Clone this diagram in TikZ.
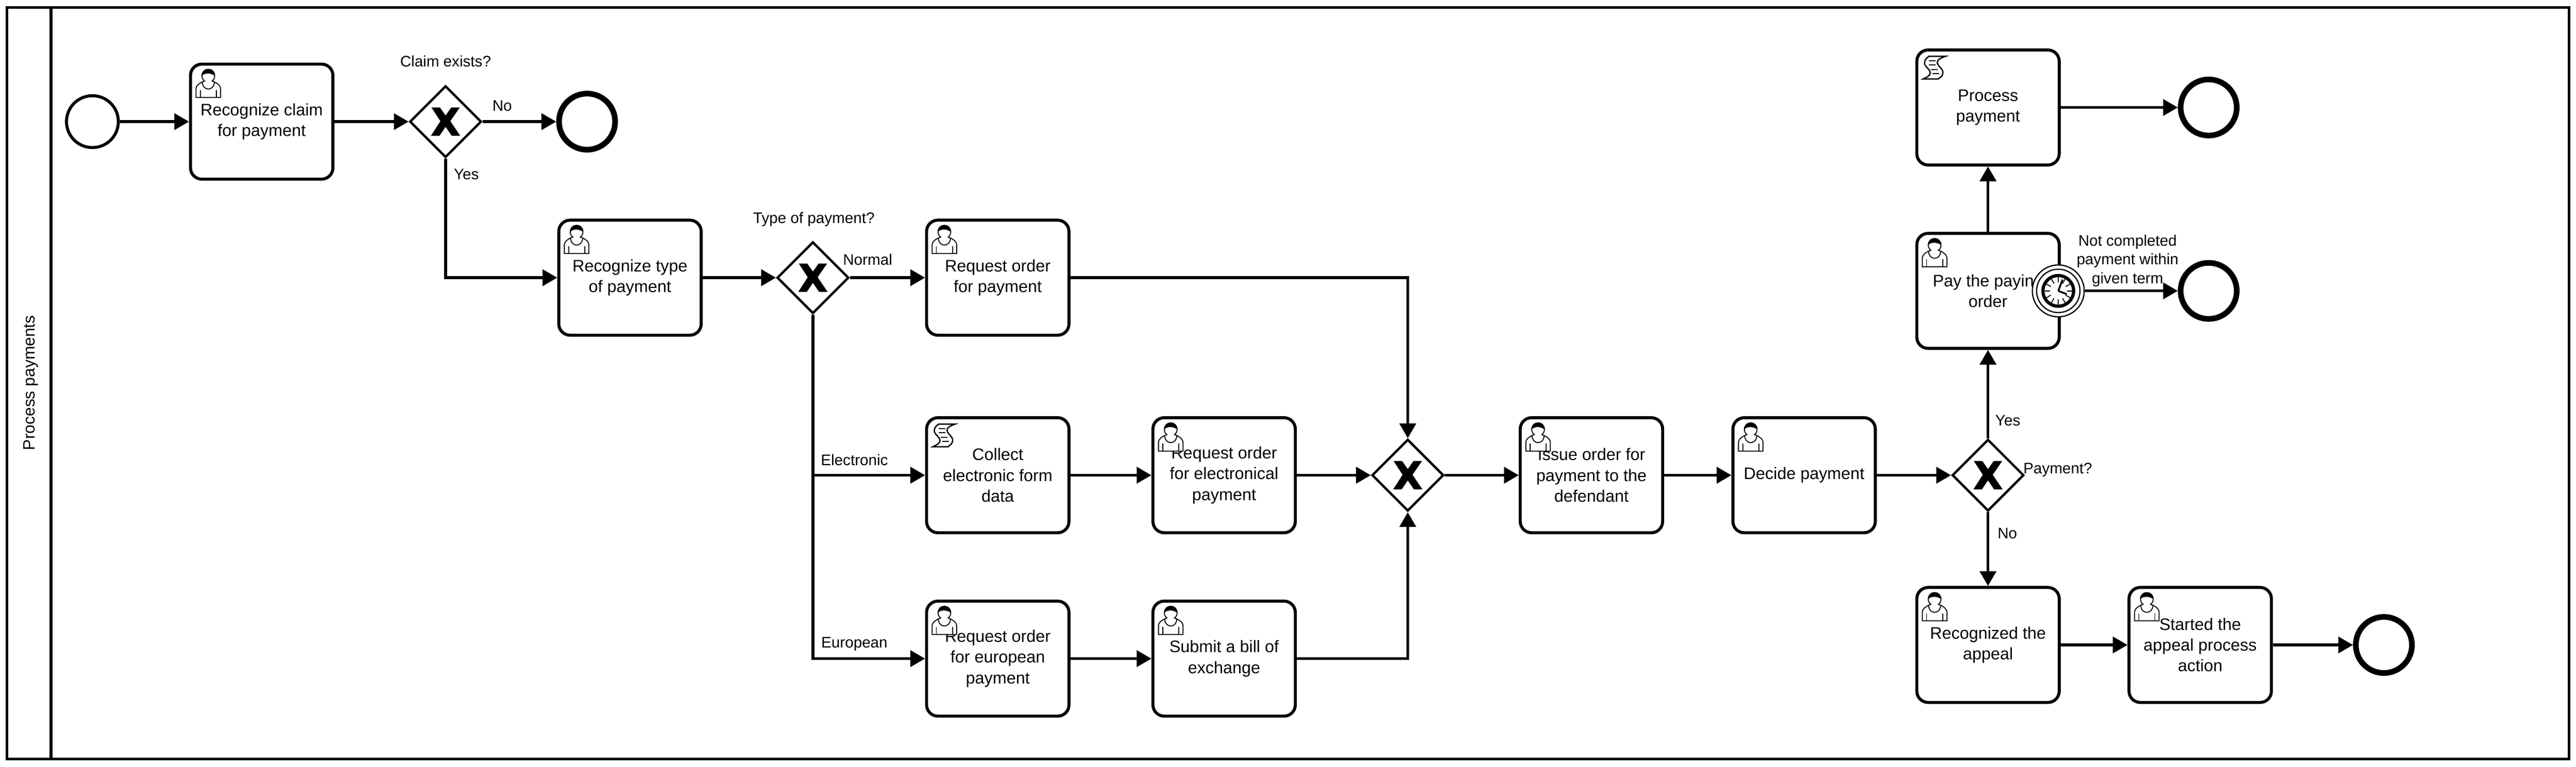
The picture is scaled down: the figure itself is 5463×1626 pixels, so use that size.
\documentclass[tikz,border=0pt]{standalone}
\usepackage{fontspec}
\setmainfont{Liberation Sans}
\usetikzlibrary{arrows.meta,shapes.geometric}
\tikzset{
  x=0.25pt,y=-0.25pt,
  taskbox/.style={draw=black,fill=white,line width=1.6pt,rounded corners=6pt,align=center,inner sep=0pt,
    font=\fontsize{8.85pt}{11pt}\selectfont},
  gatebox/.style={draw=black,fill=white,diamond,aspect=1,line width=1.25pt,inner sep=0pt,minimum size=38pt},
  startev/.style={draw=black,fill=white,circle,line width=1.6pt,inner sep=0pt,minimum size=27.5pt},
  endev/.style={draw=black,fill=white,circle,line width=3pt,inner sep=0pt,minimum size=29.75pt},
  flow/.style={draw=black,line width=1.45pt,-{Triangle[length=7.8pt,width=8.6pt]}},
  lab/.style={align=center,inner sep=0pt,font=\fontsize{8.1pt}{10pt}\selectfont},
  thinline/.style={draw=black,line width=0.5pt},
}
\newcommand{\usericon}[1]{%
  \begin{scope}[shift={(#1.north west)},xshift=3.75pt,yshift=-3.5pt]
    \path[fill=white] (13,27) .. controls (8,30) and (1,33) .. (0,41) -- (0,60) -- (52,60) -- (52,41) .. controls (51,33) and (44,30) .. (39,27);
    \draw[thinline] (13,27) .. controls (8,30) and (1,33) .. (0,41) -- (0,60) -- (52,60) -- (52,41) .. controls (51,33) and (44,30) .. (39,27);
    \draw[thinline] (9,44) -- (9,60) (43,44) -- (43,60);
    \draw[thinline] (13,27) .. controls (14,38) and (20,42) .. (26,42) .. controls (32,42) and (38,38) .. (39,27);
    \draw[thinline,fill=white] (13,27) -- (18,25) .. controls (14,22) and (12.5,18) .. (12.5,14) .. controls (12.5,5) and (19,0) .. (26,0) .. controls (33,0) and (39.5,5) .. (39.5,14) .. controls (39.5,18) and (38,22) .. (34,25) -- (39,27);
    \fill[black] (12.5,14) .. controls (12.5,5) and (19,0) .. (26,0) .. controls (33,0) and (39.5,5) .. (39.5,14) .. controls (36,11) and (30,9) .. (25,9) .. controls (20,9) and (15,11) .. (12.5,14) -- cycle;
  \end{scope}}
\newcommand{\scripticon}[1]{%
  \begin{scope}[shift={(#1.north west)},xshift=4.15pt,yshift=-4.2pt]
    \draw[black,line width=0.7pt,fill=white,line join=miter] (12,0) -- (47,0) .. controls (36,4) and (30,7) .. (30,13) .. controls (30,20) and (42,26) .. (42,34) .. controls (42,41) and (37,44) .. (32,48) -- (0,48) .. controls (8,44) and (15,41) .. (15,35) .. controls (15,27) and (3,22) .. (3,14) .. controls (3,7) and (7,4) .. (12,0) -- cycle;
    \draw[black,line width=0.6pt] (12,9) -- (26,9) (12,18) -- (26,18) (17,28) -- (31,28) (20,37) -- (34,37);
  \end{scope}}
\newcommand{\taskn}[6]{% name, cx, cy, w, h, text
  \node[taskbox,minimum width=#4*0.25pt,minimum height=#5*0.25pt] (#1) at (#2,#3) {#6};}
\newcommand{\xmark}[1]{%
  \begin{scope}[shift={(#1.center)}]
    \fill[black] (-30,-30) -- (-12,-30) -- (0,-13) -- (12,-30) -- (30,-30) -- (10,-1) -- (31,30) -- (13,30) -- (0,11) -- (-13,30) -- (-31,30) -- (-11,-1) -- cycle;
  \end{scope}}
\begin{document}
\begin{tikzpicture}
\useasboundingbox (0,0) rectangle (5463,1626);
\fill[white] (0,0) rectangle (5463,1626);
% pool
\node[draw=black,line width=1.5pt,minimum width=1358.25pt,minimum height=398.5pt,inner sep=0pt] (pool) at (2731.5,813) {};
\coordinate (dt) at (108,17);
\coordinate (db) at (108,1607);
\draw[black,line width=1.5pt] (dt) -- (db);
\node[rotate=90,inner sep=0pt,font=\fontsize{8.7pt}{10pt}\selectfont] (pooltitle) at (65,812) {Process payments};
% events
\node[startev] (start) at (196,258) {};
\node[endev] (e1) at (1245,258) {};
\node[endev] (e2) at (4684,228) {};
\node[endev] (e3) at (4684,617) {};
\node[endev] (e4) at (5055.5,1368) {};
% tasks
\taskn{t1}{555}{258}{302}{244}{Recognize claim\\for payment}
\taskn{t2}{1336}{589}{302}{244}{Recognize type\\of payment}
\taskn{t3}{2116}{589}{302}{244}{Request order\\for payment}
\taskn{t4}{2116}{1008}{302}{244}{Collect\\electronic form\\data}
\taskn{t5}{2596}{1008}{302}{244}{Request order\\for electronical\\payment}
\taskn{t6}{2116}{1397}{302}{244}{Request order\\for european\\payment}
\taskn{t7}{2596}{1397}{302}{244}{Submit a bill of\\exchange}
\taskn{t8}{3375}{1008}{302}{244}{Issue order for\\payment to the\\defendant}
\taskn{t9}{3826}{1008}{302}{244}{Decide payment}
\taskn{t10}{4216}{228}{302}{244}{Process\\payment}
\taskn{t11}{4216}{617}{302}{244}{Pay the paying\\order}
\taskn{t12}{4216}{1368}{302}{244}{Recognized the\\appeal}
\taskn{t13}{4666}{1368}{302}{244}{Started the\\appeal process\\action}
% gateways
\node[gatebox] (g1) at (945,258) {};
\node[gatebox] (g2) at (1724,589) {};
\node[gatebox] (g3) at (2985.5,1008) {};
\node[gatebox] (g4) at (4216,1008) {};
\xmark{g1}\xmark{g2}\xmark{g3}\xmark{g4}
% boundary timer
\node[circle,draw=black,fill=white,line width=0.65pt,minimum size=27.5pt,inner sep=0pt] (timer) at (4365,617) {};
\begin{scope}[shift={(timer.center)}]
  \draw[black,line width=0.65pt] (0,0) circle[radius=46];
  \draw[black,line width=1.7pt] (0,0) circle[radius=32.5];
  \foreach \a in {0,30,...,330} \draw[black,line width=0.5pt] (\a:18) -- (\a:29);
  \draw[black,line width=0.95pt] (0,0) -- (9,-24);
  \draw[black,line width=0.95pt] (0,0) -- (18,7);
\end{scope}
% edges
\draw[flow] (start) -- (t1);
\draw[flow] (t1) -- (g1);
\draw[flow] (g1) -- (e1);
\draw[flow] (g1.south) |- (t2.west);
\draw[flow] (t2) -- (g2);
\draw[flow] (g2) -- (t3);
\draw[flow] (g2.south) |- (t4.west);
\draw[flow] (g2.south) |- (t6.west);
\draw[flow] (t3.east) -| (g3.north);
\draw[flow] (t4) -- (t5);
\draw[flow] (t5) -- (g3);
\draw[flow] (t6) -- (t7);
\draw[flow] (t7.east) -| (g3.south);
\draw[flow] (g3) -- (t8);
\draw[flow] (t8) -- (t9);
\draw[flow] (t9) -- (g4);
\draw[flow] (g4) -- (t11);
\draw[flow] (g4) -- (t12);
\draw[flow] (t11) -- (t10);
\draw[flow] (t10) -- (e2);
\draw[flow] (timer) -- (e3);
\draw[flow] (t12) -- (t13);
\draw[flow] (t13) -- (e4);
% icons
\usericon{t1}\usericon{t2}\usericon{t3}\scripticon{t4}\usericon{t5}\usericon{t6}\usericon{t7}\usericon{t8}\usericon{t9}\scripticon{t10}\usericon{t11}\usericon{t12}\usericon{t13}
% labels
\node[lab] (l1) at (945,130) {Claim exists?};
\node[lab] (l2) at (1065,224) {No};
\node[lab] (l3) at (989,370) {Yes};
\node[lab] (l4) at (1726,465) {Type of payment?};
\node[lab] (l5) at (1840,551) {Normal};
\node[lab] (l6) at (1812,976) {Electronic};
\node[lab] (l7) at (1812,1366) {European};
\node[lab] (l8) at (4258,892) {Yes};
\node[lab] (l9) at (4257,1131) {No};
\node[lab] (l10) at (4364,997) {Payment?};
\node[lab] (l11) at (4512,553) {Not completed\\payment within\\given term};
\end{tikzpicture}
\end{document}
